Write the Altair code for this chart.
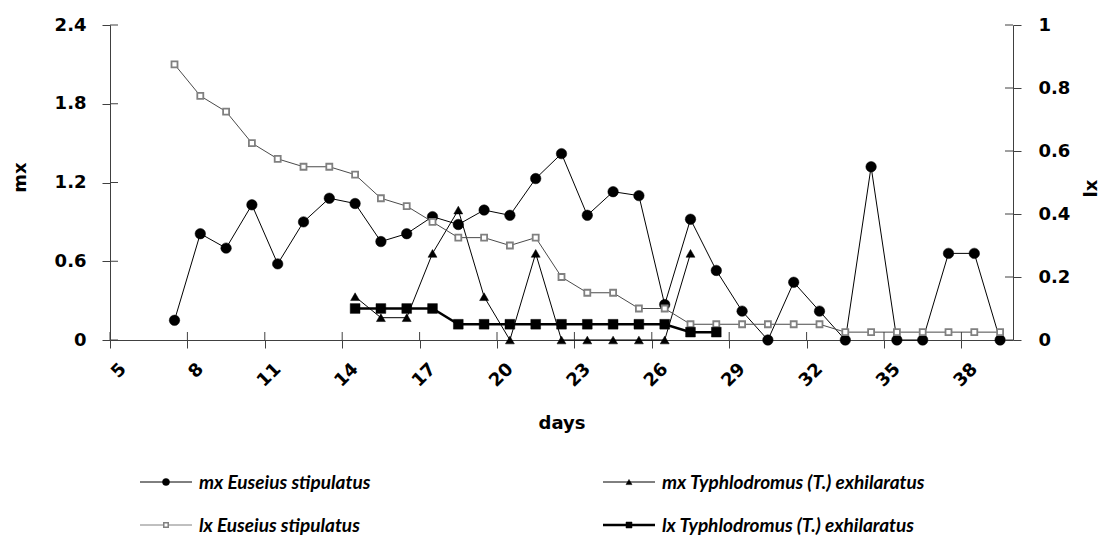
import altair as alt
import pandas as pd

# ---------------- data ----------------
days_E = list(range(7, 40))
mx_E = [0.15, 0.81, 0.70, 1.03, 0.58, 0.90, 1.08, 1.04, 0.75, 0.81,
        0.94, 0.88, 0.99, 0.95, 1.23, 1.42, 0.95, 1.13, 1.10, 0.27,
        0.92, 0.53, 0.22, 0.0, 0.44, 0.22, 0.0, 1.32, 0.0, 0.0,
        0.66, 0.66, 0.0]
lx_E = [0.875, 0.775, 0.725, 0.625, 0.575, 0.55, 0.55, 0.525, 0.45, 0.425,
        0.375, 0.325, 0.325, 0.30, 0.325, 0.20, 0.15, 0.15, 0.10, 0.10,
        0.05, 0.05, 0.05, 0.05, 0.05, 0.05, 0.025, 0.025, 0.025, 0.025,
        0.025, 0.025, 0.025]
days_T_mx = list(range(14, 28))
mx_T = [0.33, 0.17, 0.17, 0.66, 0.99, 0.33, 0.0, 0.66, 0.0, 0.0, 0.0, 0.0, 0.0, 0.66]
days_T_lx = list(range(14, 29))
lx_T = [0.10, 0.10, 0.10, 0.10, 0.05, 0.05, 0.05, 0.05, 0.05, 0.05, 0.05, 0.05, 0.05,
        0.025, 0.025]

x_ticks = [5, 8, 11, 14, 17, 20, 23, 26, 29, 32, 35, 38]
mx_ticks = [0, 0.6, 1.2, 1.8, 2.4]
lx_ticks = [0, 0.2, 0.4, 0.6, 0.8, 1.0]

legend_labels = ["mx Euseius stipulatus", "mx Typhlodromus (T.) exhilaratus",
                 "lx Euseius stipulatus", "lx Typhlodromus (T.) exhilaratus"]

# ---------------- styling ----------------
W, H = 903, 315
AXFONT = "DejaVu Sans"
LEGFONT = "Lato"
AX = "#404040"
FS = 18

x_scale = alt.Scale(domain=[5, 40], nice=False, zero=False)
mx_scale = alt.Scale(domain=[0, 2.4], nice=False)
lx_scale = alt.Scale(domain=[0, 1], nice=False)

x_axis = alt.Axis(values=x_ticks, title="days", labelAngle=315, labelAlign="right",
                  labelBaseline="middle", labelOffset=13, labelPadding=18, tickSize=8,
                  labelFlush=False, labelOverlap=False, titleY=83, titleBaseline="middle")
mx_axis = alt.Axis(values=mx_ticks, format="~g", orient="left", title="mx", titleAngle=270,
                   titleX=-90, titleY=152, titleBaseline="middle", titleAlign="center",
                   tickSize=8, labelPadding=16, labelFlush=False)
lx_axis = alt.Axis(values=lx_ticks, format="~g", orient="right", title="lx", titleAngle=270,
                   titleX=78, titleY=163, titleBaseline="middle", titleAlign="center",
                   tickSize=8, labelPadding=17, labelFlush=False)


def series(days, vals):
    return pd.DataFrame({"day": days, "v": vals})


def line_layer(df, yscale, yaxis, color, width, shape, size, fill, stroke, sw):
    return alt.Chart(df).transform_calculate(pos="datum.day + 0.5").mark_line(
        color=color, strokeWidth=width,
        point=alt.OverlayMarkDef(shape=shape, size=size, filled=True, fill=fill,
                                 stroke=stroke, strokeWidth=sw, opacity=1)
    ).encode(
        x=alt.X("pos:Q", scale=x_scale, axis=x_axis),
        y=alt.Y("v:Q", scale=yscale, axis=yaxis),
    )


tick_df_x = pd.DataFrame({"t": x_ticks})
tick_df_mx = pd.DataFrame({"t": mx_ticks})
tick_df_lx = pd.DataFrame({"t": lx_ticks})

left_in = alt.Chart(tick_df_mx).mark_rule(color=AX, strokeWidth=1).encode(
    y=alt.Y("t:Q", scale=mx_scale, axis=mx_axis), x=alt.value(0), x2=alt.value(8))
right_in = alt.Chart(tick_df_lx).mark_rule(color=AX, strokeWidth=1).encode(
    y=alt.Y("t:Q", scale=lx_scale, axis=lx_axis), x=alt.value(W - 8), x2=alt.value(W))
x_in = alt.Chart(tick_df_x).mark_rule(color=AX, strokeWidth=1).encode(
    x=alt.X("t:Q", scale=x_scale, axis=x_axis), y=alt.value(H - 8), y2=alt.value(H))

left = alt.layer(
    left_in,
    line_layer(series(days_E, mx_E), mx_scale, mx_axis, "black", 1, "circle", 110, "black", "black", 0.5),
    line_layer(series(days_T_mx, mx_T), mx_scale, mx_axis, "black", 1, "triangle-up", 80, "black", "black", 0.5),
)
right = alt.layer(
    right_in,
    line_layer(series(days_E, lx_E), lx_scale, lx_axis, "#4a4a4a", 1, "square", 36, "white", "#808080", 1.8),
    line_layer(series(days_T_lx, lx_T), lx_scale, lx_axis, "black", 2.5, "square", 95, "black", "black", 0.5),
)


def legend_entry(label, x0, y0, shape, size, fill, stroke, sw, lcolor, lw):
    d = pd.DataFrame({"label": [label]})
    base = alt.Chart(d)
    line = base.mark_rule(color=lcolor, strokeWidth=lw).encode(
        x=alt.value(x0), x2=alt.value(x0 + 52), y=alt.value(y0))
    pt = base.mark_point(shape=shape, size=size, filled=True, fill=fill, stroke=stroke,
                         strokeWidth=sw, opacity=1).encode(x=alt.value(x0 + 26), y=alt.value(y0))
    txt = base.mark_text(align="left", baseline="middle", font=LEGFONT, fontSize=19,
                         fontWeight="bold", fontStyle="italic", color="black").encode(
        x=alt.value(x0 + 59), y=alt.value(y0 + 1), text="label:N")
    return [line, pt, txt]


legend = []
legend += legend_entry(legend_labels[0], 30, 457, "circle", 50, "black", "black", 0.5, "black", 1)
legend += legend_entry(legend_labels[1], 493, 457, "triangle-up", 36, "black", "black", 0.5, "black", 1)
legend += legend_entry(legend_labels[2], 30, 500, "square", 20, "white", "#808080", 1.5, "#808080", 1)
legend += legend_entry(legend_labels[3], 493, 500, "square", 36, "black", "black", 0.5, "black", 2.5)

chart = alt.layer(left, right, x_in, *legend).resolve_scale(y="independent").properties(
    width=W, height=H,
    autosize=alt.AutoSizeParams(type="none"),
    padding={"left": 102, "top": 17, "right": 86, "bottom": 196},
).configure_view(stroke=None).configure_axis(
    grid=False, domainColor=AX, tickColor=AX, domainWidth=1, tickWidth=1,
    labelFont=AXFONT, labelFontSize=FS, labelFontWeight="bold", labelColor="black",
    titleFont=AXFONT, titleFontSize=FS, titleFontWeight="bold", titleColor="black",
)

chart.save("out.html", embed_options={"renderer": "svg", "actions": False})
